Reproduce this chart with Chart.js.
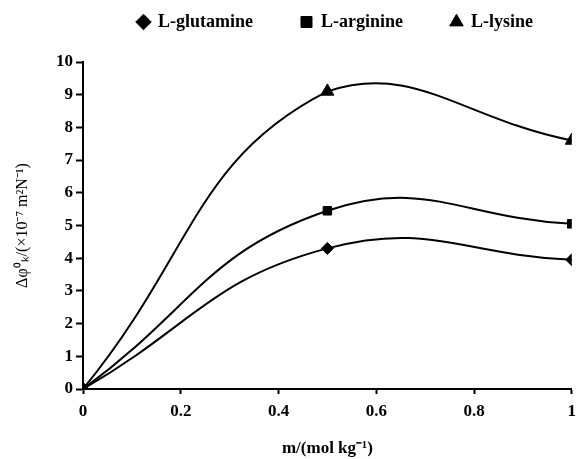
<!DOCTYPE html>
<html>
<head>
<meta charset="utf-8">
<script src="https://cdn.jsdelivr.net/npm/chart.js@4/dist/chart.umd.min.js"></script>
<style>
  html, body { margin: 0; padding: 0; background: #fff; }
  #wrap { width: 583px; height: 459px; }
</style>
</head>
<body>
<div id="wrap"><canvas id="chart" width="583" height="459"></canvas></div>
<script>
// molality values and series
const molality = [0, 0.5, 1];
const glutamine = [0, 4.3, 3.95];
const arginine = [0, 5.45, 5.05];
const lysine = [0, 9.1, 7.6];
const xTicks = [0, 0.2, 0.4, 0.6, 0.8, 1];
const yTicks = [0, 1, 2, 3, 4, 5, 6, 7, 8, 9, 10];

const serif = "'Liberation Serif', 'Times New Roman', serif";

const toPoints = (ys) => molality.map((x, i) => ({ x: x, y: ys[i] }));

const makeSet = (label, ys, style, radius) => ({
  label: label,
  data: toPoints(ys),
  borderColor: "#000",
  backgroundColor: "#000",
  borderWidth: 2,
  tension: 0.45,
  pointStyle: style,
  pointRadius: radius,
  pointBorderWidth: 1,
  fill: false,
});

// legend: fixed block height and a sideways nudge so it sits like the original
const legendPlace = {
  id: "legendPlace",
  beforeLayout(chart) {
    const legend = chart.legend;
    if (legend && !legend._patched) {
      const fit = legend.fit;
      legend.fit = function () {
        fit.call(this);
        this.height = 97;
      };
      legend._patched = true;
    }
  },
  afterLayout(chart) {
    const legend = chart.legend;
    if (legend) {
      legend.left += 44;
      legend.right += 44;
    }
  },
};

new Chart(document.getElementById("chart"), {
  type: "line",
  data: {
    datasets: [
      makeSet("L-glutamine", glutamine, "rectRot", 6),
      makeSet("L-arginine", arginine, "rect", 6),
      makeSet("L-lysine", lysine, "triangle", 7.5),
    ],
  },
  plugins: [legendPlace],
  options: {
    responsive: false,
    animation: false,
    layout: { padding: { top: -35, right: 0, bottom: 0, left: 0 } },
    plugins: {
      tooltip: { enabled: false },
      legend: {
        position: "top",
        labels: {
          usePointStyle: true,
          boxWidth: 11,
          boxHeight: 11,
          padding: 48,
          color: "#000",
          font: { family: serif, size: 18, weight: "bold" },
        },
      },
    },
    scales: {
      x: {
        type: "linear",
        min: 0,
        max: 1,
        afterBuildTicks: (axis) => {
          axis.ticks = xTicks.map((v) => ({ value: v }));
        },
        afterFit: (axis) => {
          axis.height = 70;
        },
        border: { color: "#000", width: 2 },
        grid: {
          drawOnChartArea: false,
          drawTicks: true,
          tickLength: 5,
          tickWidth: 2,
          tickColor: "#000",
        },
        ticks: {
          color: "#000",
          padding: 7,
          maxRotation: 0,
          font: { family: serif, size: 17, weight: "bold" },
          callback: (v) => String(v),
        },
        title: {
          display: true,
          text: "m/(mol kg\u207B\u00B9)",
          color: "#000",
          padding: { top: 4, bottom: 0 },
          font: { family: serif, size: 17, weight: "bold" },
        },
      },
      y: {
        type: "linear",
        min: 0,
        max: 10,
        afterBuildTicks: (axis) => {
          axis.ticks = yTicks.map((v) => ({ value: v }));
        },
        afterFit: (axis) => {
          axis.width = 83;
        },
        border: { color: "#000", width: 2 },
        grid: {
          drawOnChartArea: false,
          drawTicks: true,
          tickLength: 7,
          tickWidth: 2,
          tickColor: "#000",
        },
        ticks: {
          color: "#000",
          padding: 3,
          font: { family: serif, size: 17, weight: "bold" },
        },
        title: {
          display: true,
          text: "\u0394\u03C6\u2070\u2096/(\u00D710\u207B\u2077 m\u00B2N\u207B\u00B9)",
          color: "#000",
          padding: { top: 13, bottom: 0 },
          font: { family: serif, size: 16 },
        },
      },
    },
  },
});
</script>
</body>
</html>
